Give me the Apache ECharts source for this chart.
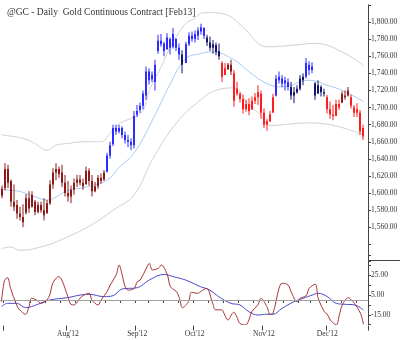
<!DOCTYPE html>
<html>
<head>
<meta charset="utf-8">
<script src="https://cdn.jsdelivr.net/npm/echarts@6/dist/echarts.min.js"></script>
<style>
html, body { margin: 0; padding: 0; background: #fff; }
#chart { width: 400px; height: 340px; }
</style>
</head>
<body>
<div id="chart"></div>
<script>
// Session days of each month (2012)
const sessionDays = {
  '2012-06': [29],
  '2012-07': [2, 3, 5, 6, 9, 10, 11, 12, 13, 16, 17, 18, 19, 20, 23, 24, 25, 26, 27, 30, 31],
  '2012-08': [1, 2, 3, 6, 7, 8, 9, 10, 13, 14, 15, 16, 17, 20, 21, 22, 23, 24, 27, 28, 29, 30, 31],
  '2012-09': [4, 5, 6, 7, 10, 11, 12, 13, 14, 17, 18, 19, 20, 21, 24, 25, 26, 27, 28],
  '2012-10': [1, 2, 3, 4, 5, 8, 9, 10, 11, 12, 15, 16, 17, 18, 19, 22, 23, 24, 25, 26, 29, 30, 31],
  '2012-11': [1, 2, 5, 6, 7, 8, 9, 12, 13, 14, 15, 16, 19, 20, 21, 23, 26, 27, 28, 29, 30],
  '2012-12': [3, 4, 5, 6, 7, 10, 11, 12, 13, 14, 17, 18, 19, 20]
};
const monthTickLabels = {
  '2012-08': "Aug'12", '2012-09': "Sep'12", '2012-10': "Oct'12",
  '2012-11': "Nov'12", '2012-12': "Dec'12"
};
const priceLabelRange = [1560, 1800];
const oscLabelValues = [25, 5, -15];

// Daily prices
const opens = [1597,1606,1628,1614,1590,1586,1576,1572,1577,1594,1584,1590,1578,1586,1580,1576,1588,1610,1624,1628,
  1624,1612,1600,1596,1604,1612,1616,1612,1610,1626,1614,1602,1608,1618,1616,1625,1644,1657,1676,1672,
  1676,1668,1662,1660,1656,1692,1697,1702,1714,1742,1733,1730,1766,1778,1775,1768,1780,1771,1780,1770,
  1762,1752,1774,1784,1780,1784,1789,1793,1782,1776,1770,1773,1766,1752,1738,1745,1750,1740,1716,1716,
  1710,1698,1704,1698,1708,1712,1716,1694,1680,1684,1694,1714,1732,1734,1728,1730,1724,1714,1718,1722,
  1732,1736,1750,1744,1728,1716,1724,1718,1712,1698,1692,1690,1704,1706,1714,1714,1712,1700,1694,1694,
  1676];
const highs = [1609,1635,1633,1616,1610,1592,1584,1587,1599,1602,1602,1592,1590,1590,1594,1592,1615,1629,1635,1631,
  1633,1621,1614,1609,1617,1621,1621,1617,1631,1629,1621,1613,1621,1623,1627,1647,1660,1680,1680,1680,
  1678,1672,1668,1664,1696,1703,1706,1720,1748,1746,1742,1756,1785,1786,1777,1787,1782,1793,1781,1775,
  1767,1777,1788,1789,1790,1794,1798,1794,1785,1783,1779,1776,1775,1754,1752,1752,1756,1744,1730,1718,
  1715,1709,1711,1713,1717,1726,1720,1699,1687,1696,1716,1738,1742,1738,1736,1734,1730,1724,1726,1738,
  1740,1758,1754,1753,1730,1732,1726,1722,1715,1707,1703,1709,1709,1719,1720,1724,1715,1703,1705,1697,
  1680];
const lows = [1594,1603,1606,1584,1579,1570,1568,1560,1575,1577,1583,1574,1576,1577,1568,1579,1586,1605,1615,1618,
  1607,1596,1590,1588,1598,1607,1609,1604,1612,1609,1596,1601,1605,1611,1614,1624,1640,1655,1668,1670,
  1664,1658,1654,1650,1652,1689,1694,1698,1709,1727,1730,1720,1763,1771,1760,1770,1762,1769,1766,1756,
  1740,1752,1772,1777,1776,1779,1785,1780,1772,1766,1763,1761,1756,1730,1740,1744,1738,1701,1714,1706,
  1693,1695,1691,1697,1704,1703,1687,1676,1673,1683,1695,1713,1728,1724,1720,1720,1709,1705,1716,1720,
  1726,1734,1738,1740,1709,1717,1713,1713,1693,1687,1685,1691,1697,1705,1709,1713,1699,1689,1689,1668,
  1662];
const closes = [1605,1628,1612,1590,1584,1576,1572,1566,1594,1582,1598,1578,1586,1580,1574,1588,1610,1624,1628,1622,
  1612,1600,1596,1604,1612,1616,1612,1608,1626,1614,1602,1608,1618,1614,1624,1644,1656,1676,1672,1676,
  1668,1662,1660,1656,1690,1696,1702,1716,1742,1732,1738,1750,1778,1774,1766,1782,1770,1786,1770,1762,
  1750,1774,1784,1780,1786,1790,1794,1784,1776,1770,1774,1765,1760,1736,1746,1750,1742,1708,1722,1710,
  1698,1704,1696,1708,1712,1718,1694,1680,1684,1692,1712,1734,1736,1728,1732,1724,1714,1718,1722,1734,
  1736,1752,1744,1748,1714,1726,1718,1716,1698,1692,1690,1704,1700,1716,1712,1720,1702,1694,1698,1672,
  1666];
// Bar tone: M = weak down, B = strong up, N = weak up, R = strong down
const barTone = ('MMMMMMMMMMMMMMMMMMMMMMMMMMMMMMMMMMM' +
  'BBBBBBBBBBBBBBBBBBBBBBBBBN' + 'BBBBBBB' + 'NNNNN' + 'RRMM' + 'RRRRRRRRRRRRRR' +
  'BBBBB' + 'NNNNN' + 'BBB' + 'NNNN' + 'RRRRR' + 'MMM' + 'RRRRR').split('');
const toneColors = { B: '#2c2cff', N: '#16166e', R: '#ff1e1e', M: '#8c1a1a' };

// Channel lines [session index, price]
const upperBand = [[0,1668],[7,1664],[11,1658],[15,1650],[18,1656],[22,1658],[27,1660],[33,1660],[36,1670],
  [39,1681],[44,1689],[47,1697],[49,1720],[53,1748],[56,1771],[61,1798],[64,1804],[66,1810],[69,1811],
  [75,1808],[80,1794],[88,1771],[97,1773],[104,1775],[113,1765],[120,1749]];
const midLine = [[0,1604],[6,1602],[10,1597],[15,1592],[22,1603],[28,1607],[35,1615],[39,1630],[44,1647],
  [50,1685],[56,1728],[61,1757],[66,1763],[70,1765],[77,1756],[82,1742],[88,1728],[93,1724],[102,1732],
  [108,1726],[113,1720],[120,1707]];
const lowerBand = [[0,1535],[3,1537],[6,1533],[15,1539],[22,1549],[29,1561],[37,1580],[44,1598],[50,1639],
  [58,1682],[66,1709],[71,1720],[77,1723],[82,1703],[86,1691],[89,1679],[101,1682],[109,1680],[120,1668]];

// Oscillator lines [session index, value]
const oscFast = [[0,-1.7],[1,20],[2,22.6],[3,11.8],[5,-5],[6,-10],[8,-14.5],[9,-8],[10,1.7],[12,-0.7],[13,-3.4],
  [15,0],[16,5],[17,17],[19,23.7],[20,20.3],[22,3.4],[23,-4.4],[24,-5],[26,1.7],[27,4.4],[29,6.8],[30,0],
  [32,-5],[33,0],[35,8.5],[36,15],[38,25.4],[39,35.5],[40,25.4],[41,13.5],[42,10],[44,11.8],[45,18.6],
  [46,20.3],[48,32.2],[49,37.2],[50,30.5],[52,32.2],[53,35.5],[55,25.4],[56,13.5],[58,8.5],[59,1.7],
  [60,-7.8],[62,-1.7],[63,7.8],[65,6.8],[66,8.5],[68,11.8],[70,-3.4],[71,-10],[73,-10],[74,-15.2],
  [75,-20.3],[77,-12.5],[78,-16.9],[79,-23.7],[81,-25.4],[82,-20.3],[83,-11.8],[85,-5],[86,1.7],[88,-6.8],
  [89,-14.5],[90,-13.5],[92,11.8],[93,17],[95,15.2],[96,8.5],[98,-1.7],[99,1.7],[101,4.4],[102,11.8],
  [104,16],[105,1.7],[107,-11.8],[108,-14.5],[109,-20.3],[111,-25.4],[112,-15.2],[113,-5],[115,2.4],
  [116,0],[117,-3.4],[119,-13.5],[120,-24.7]];
const oscSlow = [[0,-6.8],[2,-3.4],[5,-3.4],[8,-7.8],[12,-4.4],[16,0],[22,2.4],[26,5],[29,5.8],[34,3.4],
  [37,4.4],[40,11.2],[45,12.5],[49,20.3],[54,26],[57,23.7],[61,20.3],[66,13.5],[69,10.2],[72,3.4],
  [76,-3.4],[79,-5],[82,-11.8],[85,-15.2],[88,-14.5],[90,-14.5],[93,-8.5],[97,-1.7],[100,1.7],[103,5],
  [105,6.8],[108,3.4],[111,-3.4],[114,-4.4],[117,-5],[120,-10.2]];

// ---- build categories and axis helpers ----
const dates = [];
Object.keys(sessionDays).forEach(function (m) {
  sessionDays[m].forEach(function (d) { dates.push(m + '-' + String(d).padStart(2, '0')); });
});
const weekdayOf = dates.map(function (s) { return new Date(s + 'T00:00:00Z').getUTCDay(); });
function isWeekStart(i) { return i > 0 && weekdayOf[i] <= weekdayOf[i - 1]; }
function isMonthStart(i) { return i > 0 && dates[i].slice(0, 7) !== dates[i - 1].slice(0, 7); }
function fmtPrice(v) {
  return String(v).replace(/\B(?=(\d{3})+(?!\d))/g, ',') + '.00';
}

const ohlc = opens.map(function (o, i) { return [i, o, highs[i], lows[i], closes[i]]; });

function renderBar(params, api) {
  const i = api.value(0);
  const top = api.coord([i, api.value(2)]);
  const bot = api.coord([i, api.value(3)]);
  const po = api.coord([i, api.value(1)]);
  const pc = api.coord([i, api.value(4)]);
  const color = toneColors[barTone[params.dataIndex]] || toneColors.R;
  const x = Math.round(top[0]) - 1;
  const y0 = Math.min(po[1], pc[1]);
  const h = Math.max(1.5, Math.abs(po[1] - pc[1]));
  return {
    type: 'group',
    children: [
      { type: 'rect', shape: { x: x, y: top[1], width: 2, height: bot[1] - top[1] },
        style: { fill: color, opacity: 0.5 } },
      { type: 'rect', shape: { x: x, y: y0, width: 2, height: h }, style: { fill: color } }
    ]
  };
}

const font = 'Liberation Serif';
const axisColor = '#444';

const chart = echarts.init(document.getElementById('chart'));
chart.setOption({
  animation: false,
  backgroundColor: '#fff',
  textStyle: { fontFamily: font },
  title: {
    text: '@GC - Daily  Gold Continuous Contract [Feb13]',
    left: 2, top: 2,
    textStyle: { fontFamily: font, fontSize: 9.5, fontWeight: 'normal', color: '#333' }
  },
  grid: [
    { left: 0, right: 32, top: 4.9, height: 256.6, outerBoundsMode: 'none' },
    { left: 0, right: 32, top: 255.7, height: 68.9, outerBoundsMode: 'none' }
  ],
  xAxis: [
    { type: 'category', gridIndex: 0, data: dates, show: false },
    {
      type: 'category', gridIndex: 1, data: dates, position: 'bottom', offset: 1,
      axisLine: { show: true, lineStyle: { color: axisColor, width: 1 } },
      axisTick: { show: true, length: 3, interval: function (i) { return isWeekStart(i); },
        lineStyle: { color: axisColor } },
      axisLabel: { show: false }
    },
    {
      type: 'category', gridIndex: 1, data: dates, position: 'bottom', offset: 1,
      axisLine: { show: false },
      axisTick: { show: true, length: 5, interval: function (i) { return isMonthStart(i); },
        lineStyle: { color: axisColor } },
      axisLabel: {
        show: true, interval: function (i) { return isMonthStart(i); }, margin: 4,
        fontFamily: font, fontSize: 7.5, color: '#333',
        formatter: function (v) { return monthTickLabels[v.slice(0, 7)] || ''; }
      }
    }
  ],
  yAxis: [
    {
      type: 'value', gridIndex: 0, position: 'right', min: 1520, max: 1820, interval: 20,
      splitLine: { show: false },
      axisLine: { show: true, lineStyle: { color: axisColor } },
      axisTick: { show: true, length: 3, lineStyle: { color: axisColor } },
      axisLabel: {
        margin: 3, fontFamily: font, fontSize: 7.5, color: '#333',
        formatter: function (v) {
          return (v >= priceLabelRange[0] && v <= priceLabelRange[1]) ? fmtPrice(v) : '';
        }
      }
    },
    {
      type: 'value', gridIndex: 1, position: 'right', min: -25, max: 45, interval: 10,
      splitLine: { show: false },
      axisLine: { show: true, lineStyle: { color: axisColor } },
      axisTick: { show: true, length: 3, lineStyle: { color: axisColor } },
      axisLabel: {
        margin: 3, fontFamily: font, fontSize: 7.5, color: '#333',
        formatter: function (v) { return oscLabelValues.indexOf(v) >= 0 ? v.toFixed(2) : ''; }
      }
    }
  ],
  graphic: [
    { type: 'line', silent: true, shape: { x1: 368, y1: 260.5, x2: 400, y2: 260.5 },
      style: { stroke: axisColor, lineWidth: 1 } }
  ],
  series: [
    { type: 'line', xAxisIndex: 0, yAxisIndex: 0, data: upperBand, smooth: 0.4, symbol: 'none',
      silent: true, z: 1, lineStyle: { color: '#d2d2d2', width: 1 } },
    { type: 'line', xAxisIndex: 0, yAxisIndex: 0, data: lowerBand, smooth: 0.4, symbol: 'none',
      silent: true, z: 1, lineStyle: { color: '#d2d2d2', width: 1 } },
    { type: 'line', xAxisIndex: 0, yAxisIndex: 0, data: midLine, smooth: 0.4, symbol: 'none',
      silent: true, z: 1, lineStyle: { color: '#a9caf2', width: 1 } },
    { type: 'custom', xAxisIndex: 0, yAxisIndex: 0, data: ohlc, renderItem: renderBar,
      encode: { x: 0, y: [1, 2, 3, 4] }, z: 3, silent: true },
    {
      type: 'line', xAxisIndex: 1, yAxisIndex: 1, data: oscFast, smooth: 0.35, symbol: 'none',
      silent: true, z: 3, lineStyle: { color: '#a63535', width: 1 },
      markLine: {
        silent: true, symbol: ['none', 'none'], animation: false,
        label: { show: false },
        lineStyle: { color: '#a0a0a0', type: 'solid', width: 1 },
        data: [{ yAxis: 0 }]
      }
    },
    { type: 'line', xAxisIndex: 1, yAxisIndex: 1, data: oscSlow, smooth: 0.4, symbol: 'none',
      silent: true, z: 2, lineStyle: { color: '#4a4acc', width: 1 } }
  ]
});
</script>
</body>
</html>
